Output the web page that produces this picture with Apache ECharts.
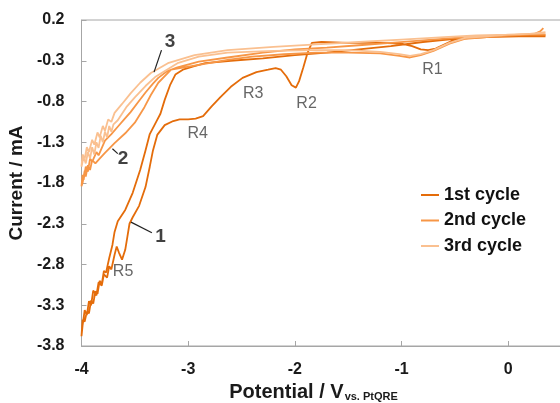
<!DOCTYPE html>
<html>
<head>
<meta charset="utf-8">
<script src="https://cdn.jsdelivr.net/npm/echarts@6/dist/echarts.min.js"></script>
<style>
html,body{margin:0;padding:0;background:#fff;}
#chart{width:560px;height:403px;}
</style>
</head>
<body>
<div id="chart"></div>
<script>
// ---- Data ----
const seriesNames = ['1st cycle', '2nd cycle', '3rd cycle'];

const cycle1Potential = [0.35,0.2,0.0,-0.2,-0.4,-0.5,-0.6,-0.68,-0.75,-0.82,-0.9,-1.0,-1.2,-1.5,-1.75,-1.84,-1.88,-1.92,-1.96,-1.99,-2.03,-2.08,-2.13,-2.18,-2.25,-2.36,-2.49,-2.6,-2.7,-2.78,-2.86,-2.93,-3.0,-3.08,-3.14,-3.22,-3.29,-3.33,-3.36,-3.4,-3.46,-3.52,-3.55,-3.57,-3.59,-3.62,-3.65,-3.67,-3.69,-3.72,-3.74,-3.76,-3.79,-3.81,-3.84,-3.86,-3.89,-3.91,-3.93,-3.95,-3.97,-3.99,-4.0,
  -3.99,-3.97,-3.95,-3.93,-3.91,-3.89,-3.87,-3.85,-3.83,-3.81,-3.79,-3.77,-3.74,-3.71,-3.69,-3.66,-3.59,-3.52,-3.45,-3.4,-3.36,-3.3,-3.26,-3.22,-3.17,-3.12,-3.05,-2.95,-2.84,-2.6,-2.3,-2.0,-1.7,-1.4,-1.1,-0.8,-0.5,-0.2,0.1,0.35];
const cycle1Current = [0.01,0.01,0.0,-0.01,-0.02,-0.04,-0.1,-0.15,-0.17,-0.16,-0.12,-0.09,-0.08,-0.08,-0.07,-0.08,-0.2,-0.38,-0.55,-0.63,-0.6,-0.49,-0.41,-0.39,-0.41,-0.44,-0.51,-0.62,-0.75,-0.86,-0.98,-1.01,-1.02,-1.02,-1.04,-1.09,-1.21,-1.4,-1.6,-1.85,-2.08,-2.22,-2.3,-2.46,-2.62,-2.74,-2.65,-2.58,-2.68,-2.86,-2.82,-2.96,-2.92,-3.06,-3.02,-3.18,-3.12,-3.3,-3.25,-3.42,-3.36,-3.55,-3.68,
  -3.48,-3.5,-3.38,-3.4,-3.24,-3.28,-3.13,-3.16,-3.0,-3.04,-2.88,-2.9,-2.72,-2.56,-2.4,-2.27,-2.13,-1.92,-1.64,-1.4,-1.2,-1.05,-0.95,-0.78,-0.6,-0.47,-0.41,-0.37,-0.33,-0.3,-0.27,-0.23,-0.2,-0.16,-0.12,-0.07,-0.03,-0.01,0.0,0.0];

const cycle2Potential = [0.35,0.2,0.0,-0.2,-0.4,-0.55,-0.7,-0.82,-0.92,-1.02,-1.2,-1.5,-1.8,-2.1,-2.4,-2.63,-2.9,-3.16,-3.28,-3.35,-3.41,-3.5,-3.59,-3.69,-3.78,-3.83,-3.87,-3.9,-3.92,-3.94,-3.96,-3.97,-3.99,-4.0,
  -3.99,-3.98,-3.96,-3.94,-3.92,-3.9,-3.86,-3.84,-3.78,-3.72,-3.66,-3.6,-3.54,-3.47,-3.4,-3.33,-3.28,-3.2,-3.1,-2.9,-2.63,-2.3,-2.0,-1.7,-1.4,-1.1,-0.8,-0.5,-0.2,0.1,0.25,0.3,0.33];
const cycle2Current = [0.02,0.02,0.01,-0.01,-0.03,-0.09,-0.18,-0.23,-0.26,-0.24,-0.21,-0.2,-0.2,-0.22,-0.25,-0.29,-0.35,-0.41,-0.57,-0.72,-0.87,-1.06,-1.19,-1.31,-1.43,-1.5,-1.56,-1.52,-1.64,-1.58,-1.72,-1.65,-1.8,-1.84,
  -1.7,-1.76,-1.6,-1.66,-1.5,-1.54,-1.42,-1.46,-1.28,-1.2,-1.11,-1.02,-0.93,-0.81,-0.69,-0.58,-0.51,-0.43,-0.38,-0.31,-0.26,-0.2,-0.16,-0.14,-0.11,-0.08,-0.05,-0.02,0.0,0.02,0.03,0.06,0.1];

const cycle3Potential = [0.35,0.2,0.0,-0.2,-0.4,-0.55,-0.7,-0.82,-0.92,-1.02,-1.2,-1.5,-1.8,-2.2,-2.63,-2.9,-3.1,-3.31,-3.4,-3.5,-3.58,-3.66,-3.7,-3.72,-3.74,-3.76,-3.78,-3.8,-3.82,-3.84,-3.86,-3.88,-3.9,-3.92,-3.94,-3.96,-3.98,-4.0,
  -3.99,-3.97,-3.95,-3.93,-3.9,-3.88,-3.85,-3.83,-3.8,-3.78,-3.75,-3.72,-3.69,-3.62,-3.54,-3.45,-3.35,-3.19,-2.94,-2.63,-2.2,-1.8,-1.4,-1.0,-0.6,-0.3,0.0,0.2,0.35];
const cycle3Current = [0.04,0.03,0.02,0.0,-0.02,-0.08,-0.17,-0.22,-0.24,-0.22,-0.19,-0.17,-0.17,-0.18,-0.2,-0.25,-0.33,-0.5,-0.61,-0.75,-0.87,-1.03,-1.08,-1.17,-1.1,-1.24,-1.17,-1.3,-1.22,-1.37,-1.3,-1.45,-1.36,-1.5,-1.42,-1.56,-1.48,-1.6,
  -1.45,-1.5,-1.36,-1.42,-1.27,-1.33,-1.18,-1.24,-1.1,-1.16,-1.02,-1.05,-0.94,-0.83,-0.7,-0.57,-0.45,-0.33,-0.23,-0.17,-0.13,-0.1,-0.07,-0.04,-0.01,0.01,0.02,0.03,0.05];

// Peak annotations
const peakLabels = ['R1', 'R2', 'R3', 'R4', 'R5'];
const peakPotential = [-0.71, -1.89, -2.39, -2.91, -3.61];
const peakCurrent = [-0.41, -0.82, -0.70, -1.19, -2.89];

// Cycle number annotations with leader lines
const cycleLabels = ['1', '2', '3'];
const cycleLabelPotential = [-3.26, -3.61, -3.17];
const cycleLabelCurrent = [-2.46, -1.50, -0.07];
const leaderStartPotential = [-3.536, -3.71, -3.25];
const leaderStartCurrent = [-2.28, -1.38, -0.17];
const leaderEndPotential = [-3.34, -3.66, -3.32];
const leaderEndCurrent = [-2.41, -1.44, -0.44];

// Axis ticks
const xTickMin = -4, xTickMax = 0.5, xTickStep = 1;
const yTickMin = -3.8, yTickMax = 0.2, yTickStep = 0.5;

// ---- Build chart ----
const colors = ['#E46C0A', '#F79646', '#FAC090'];
const zip = (a, b) => a.map((v, i) => [v, b[i]]);
const cycles = [
  zip(cycle1Potential, cycle1Current),
  zip(cycle2Potential, cycle2Current),
  zip(cycle3Potential, cycle3Current)
];

const FONT = '"Liberation Sans", Arial, sans-serif';
const axisGray = '#a6a6a6';

const series = cycles.map((d, i) => ({
  name: seriesNames[i],
  type: 'line',
  data: d,
  showSymbol: false,
  symbol: 'none',
  lineStyle: { color: colors[i], width: 1.8 },
  itemStyle: { color: colors[i] },
  z: 2 + i
}));

series.push({
  name: 'peaks',
  type: 'scatter',
  symbolSize: 0,
  silent: true,
  data: peakLabels.map((l, i) => ({ name: l, value: [peakPotential[i], peakCurrent[i]] })),
  label: {
    show: true, position: 'inside', formatter: '{b}',
    fontFamily: FONT, fontSize: 16, color: '#404040'
  },
  z: 10
});
series.push({
  name: 'cycleNums',
  type: 'scatter',
  symbolSize: 0,
  silent: true,
  data: cycleLabels.map((l, i) => ({ name: l, value: [cycleLabelPotential[i], cycleLabelCurrent[i]] })),
  label: {
    show: true, position: 'inside', formatter: '{b}',
    fontFamily: FONT, fontSize: 19, fontWeight: 'bold', color: '#111'
  },
  z: 10
});
cycleLabels.forEach((l, i) => {
  series.push({
    name: 'leader' + l,
    type: 'line',
    silent: true,
    symbol: 'none',
    data: [[leaderStartPotential[i], leaderStartCurrent[i]], [leaderEndPotential[i], leaderEndCurrent[i]]],
    lineStyle: { color: '#222', width: 1.2 },
    z: 9
  });
});

const chart = echarts.init(document.getElementById('chart'), null, { renderer: 'canvas' });
chart.setOption({
  animation: false,
  backgroundColor: '#fff',
  grid: {
    left: 81.5, top: 20, right: -1.5, bottom: 57,
    containLabel: false,
    outerBoundsMode: 'none',
    show: true, borderColor: axisGray, borderWidth: 1
  },
  legend: {
    data: seriesNames,
    orient: 'vertical',
    left: 416, top: 181,
    itemWidth: 18, itemHeight: 2, itemGap: 7.5,
    icon: 'rect',
    textStyle: { fontFamily: FONT, fontSize: 18, fontWeight: 'bold', color: '#111', lineHeight: 18 }
  },
  xAxis: {
    type: 'value',
    min: xTickMin, max: xTickMax, interval: xTickStep,
    splitLine: { show: false },
    axisLine: { onZero: false, lineStyle: { color: axisGray } },
    axisTick: { inside: true, length: 5, lineStyle: { color: axisGray } },
    axisLabel: {
      fontFamily: FONT, fontSize: 16, fontWeight: 'bold', color: '#1a1a1a',
      margin: 16, showMaxLabel: false,
      formatter: v => String(Math.round(v))
    },
    name: '{a|Potential / V}{b|vs. PtQRE}',
    nameLocation: 'middle',
    nameGap: 33,
    nameTextStyle: {
      padding: [0, 16, 0, 0],
      rich: {
        a: { fontFamily: FONT, fontSize: 20, fontWeight: 'bold', color: '#1a1a1a', lineHeight: 20, verticalAlign: 'bottom' },
        b: { fontFamily: FONT, fontSize: 11, fontWeight: 'bold', color: '#1a1a1a', verticalAlign: 'bottom', lineHeight: 11, padding: [0, 0, 0, 1] }
      }
    }
  },
  yAxis: {
    type: 'value',
    min: yTickMin, max: yTickMax, interval: yTickStep,
    splitLine: { show: false },
    axisLine: { show: true, onZero: false, lineStyle: { color: axisGray } },
    axisTick: { show: true, inside: true, length: 5, lineStyle: { color: axisGray } },
    axisLabel: {
      fontFamily: FONT, fontSize: 16, fontWeight: 'bold', color: '#1a1a1a',
      margin: 17,
      formatter: v => v.toFixed(1)
    },
    name: 'Current / mA',
    nameLocation: 'middle',
    nameGap: 54,
    nameRotate: 90,
    nameTextStyle: { fontFamily: FONT, fontSize: 19, fontWeight: 'bold', color: '#1a1a1a' }
  },
  series: series
});
</script>
</body>
</html>
